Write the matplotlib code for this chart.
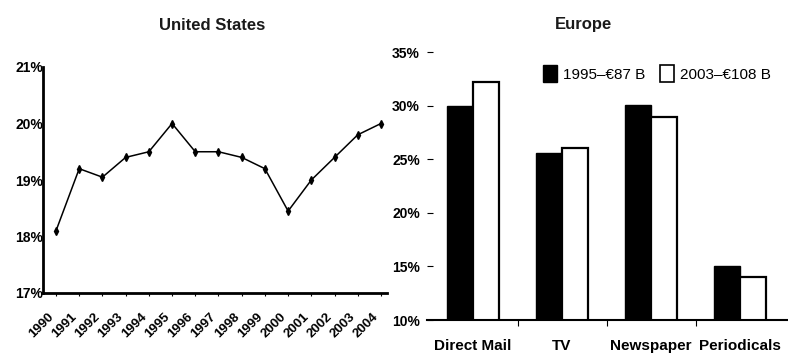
import matplotlib
matplotlib.use('Agg')
import matplotlib.pyplot as plt
from matplotlib.patches import Patch
import numpy as np

plt.rcParams['font.family'] = ['Liberation Sans', 'DejaVu Sans']

# ---- data ----
years = list(range(1990, 2005))
us_share = [18.1, 19.2, 19.05, 19.4, 19.5, 20.0, 19.5, 19.5, 19.4, 19.2,
            18.45, 19.0, 19.4, 19.8, 20.0]
us_yticks = [17, 18, 19, 20, 21]

eu_categories = ['Direct Mail', 'TV', 'Newspaper', 'Periodicals']
eu_1995 = [30.0, 25.6, 30.1, 15.0]
eu_2003 = [32.2, 26.0, 28.9, 14.0]
eu_yticks = [10, 15, 20, 25, 30, 35]
legend_labels = ['1995–€87 B', '2003–€108 B']

W, H = 788, 355
fig = plt.figure(figsize=(W / 100, H / 100), dpi=100)

# ---- United States line chart ----
ax1 = fig.add_axes([43 / W, 1 - 293 / H, (387 - 43) / W, (293 - 67) / H])
ax1.plot(years, us_share, color='black', lw=1.1, marker='d', ms=4,
         markerfacecolor='black', markeredgecolor='black')
ax1.set_xlim(1989.44, 2004.26)
ax1.set_ylim(17, 21)
ax1.set_yticks(us_yticks)
ax1.set_yticklabels([f'{v}%' for v in us_yticks], fontsize=10,
                    fontweight='bold')
ax1.set_xticks(years)
ax1.set_xticklabels([str(y) for y in years], rotation=45, ha='right',
                    va='top', fontsize=9.5, fontweight='bold')
ax1.tick_params(axis='x', length=2, width=0.8, pad=11)
ax1.tick_params(axis='y', length=0, pad=0)
for s in ['top', 'right']:
    ax1.spines[s].set_visible(False)
for s in ['left', 'bottom']:
    ax1.spines[s].set_linewidth(2)
fig.text(212 / W, 1 - 25 / H, 'United States', ha='center', va='center',
         fontsize=12, fontweight='bold', color='#1a1a1a')

# ---- Europe bar chart ----
ax2 = fig.add_axes([427 / W, 1 - 320 / H, 360 / W, 268 / H])
x = np.arange(len(eu_categories))
w = 0.29
ax2.bar(x - w / 2, eu_1995, width=w, color='black', edgecolor='black', lw=1)
ax2.bar(x + w / 2, eu_2003, width=w, color='white', edgecolor='black',
        lw=1.6)
ax2.set_xlim(-0.517, 3.528)
ax2.set_ylim(10, 35)
ax2.set_yticks(eu_yticks)
ax2.set_yticklabels([f'{v}%' for v in eu_yticks], fontsize=10,
                    fontweight='bold')
ax2.tick_params(axis='y', direction='in', length=4, width=0.8, pad=5)
ax2.set_xticks(x)
ax2.set_xticklabels(eu_categories, fontsize=11, fontweight='bold')
ax2.set_xticks(x[:-1] + 0.5, minor=True)
ax2.tick_params(axis='x', which='major', length=0, pad=14)
ax2.tick_params(axis='x', which='minor', length=4, width=0.8)
for s in ['top', 'right', 'left']:
    ax2.spines[s].set_visible(False)
ax2.spines['bottom'].set_linewidth(1.5)
handles = [Patch(facecolor='black', edgecolor='black'),
           Patch(facecolor='white', edgecolor='black', lw=1.2)]
ax2.legend(handles, legend_labels, loc='center',
           bbox_to_anchor=(0.639, 0.92), ncol=2, frameon=False, fontsize=11,
           handlelength=0.9, handleheight=1.3, handletextpad=0.4,
           columnspacing=1.0)
fig.text(583 / W, 1 - 24 / H, 'Europe', ha='center', va='center',
         fontsize=12, fontweight='bold', color='#1a1a1a')

fig.savefig('out.png', dpi=100)
